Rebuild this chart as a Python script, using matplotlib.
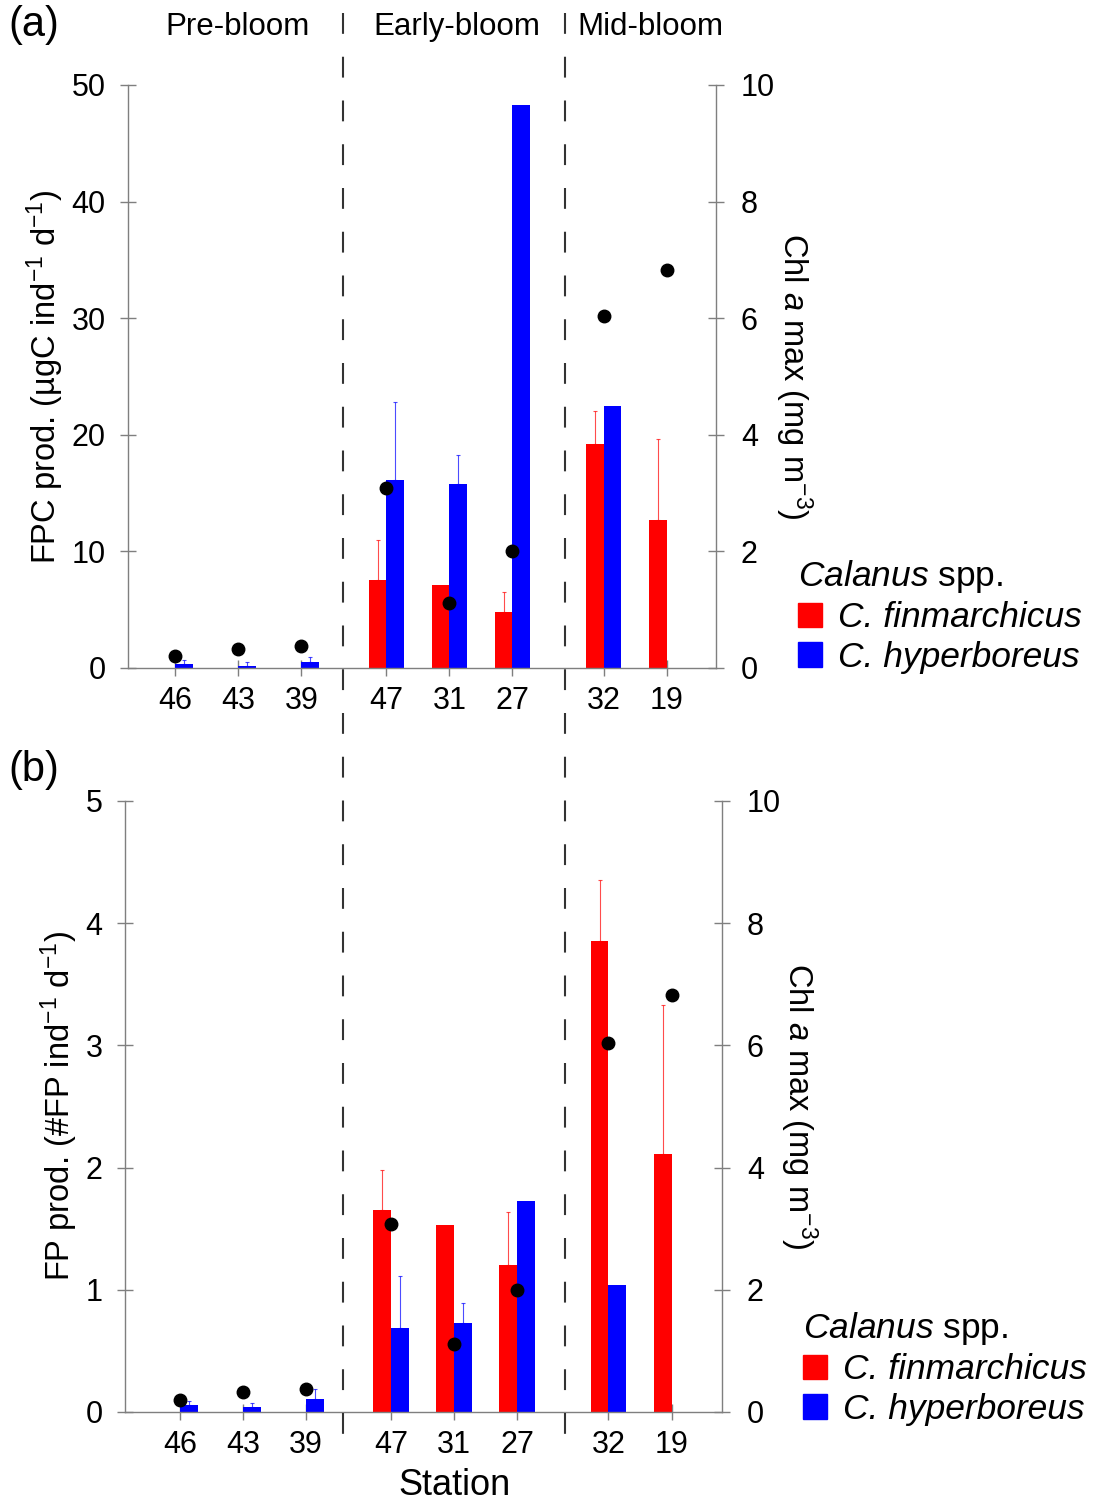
import numpy as np
import matplotlib
matplotlib.use("Agg")
import matplotlib.pyplot as plt
from matplotlib.lines import Line2D
from matplotlib.patches import Patch

plt.rcParams['font.family'] = ['Liberation Sans', 'DejaVu Sans']
plt.rcParams['mathtext.fontset'] = 'custom'
plt.rcParams['mathtext.rm'] = 'Liberation Sans'
plt.rcParams['mathtext.it'] = 'Liberation Sans:italic'

# -------------------------------------------------
# data
# -------------------------------------------------
stations = ['46', '43', '39', '47', '31', '27', '32', '19']
phases = ['Pre-bloom', 'Early-bloom', 'Mid-bloom']
station_pos = [1, 2, 3, 4.35, 5.35, 6.35, 7.8, 8.8]

fpc_fin = [0, 0, 0, 7.5, 7.1, 4.8, 19.2, 12.7]
fpc_fin_err = [0, 0, 0, 3.5, 0, 1.7, 2.8, 6.9]
fpc_hyp = [0.35, 0.15, 0.5, 16.1, 15.8, 48.3, 22.5, 0]
fpc_hyp_err = [0.3, 0.35, 0.4, 6.7, 2.5, 0, 0, 0]

fp_fin = [0, 0, 0, 1.65, 1.53, 1.2, 3.85, 2.11]
fp_fin_err = [0, 0, 0, 0.33, 0, 0.44, 0.5, 1.22]
fp_hyp = [0.06, 0.04, 0.11, 0.69, 0.73, 1.73, 1.04, 0]
fp_hyp_err = [0.03, 0.03, 0.08, 0.42, 0.16, 0, 0, 0]

chl = [0.2, 0.33, 0.37, 3.08, 1.12, 2.0, 6.04, 6.83]

RED = '#ff0000'
BLUE = '#0000ff'
GRAY = '#7f7f7f'
W = 0.28


def draw_panel(ax, fin, fin_err, hyp, hyp_err, ymax, ylabel, xlim):
    x = np.array(station_pos)
    fin = np.array(fin)
    hyp = np.array(hyp)
    fin_err = np.array(fin_err)
    hyp_err = np.array(hyp_err)

    ax.bar(x - W / 2, fin, W, color=RED, zorder=2)
    ax.bar(x + W / 2, hyp, W, color=BLUE, zorder=2)

    # upward-only error bars
    for xx, v, e, c in ((x - W / 2, fin, fin_err, RED),
                        (x + W / 2, hyp, hyp_err, BLUE)):
        m = e > 0
        ax.errorbar(xx[m], v[m], yerr=[np.zeros(m.sum()), e[m]],
                    fmt='none', ecolor=c, elinewidth=0.8,
                    capsize=1.5, capthick=0.8, alpha=0.7, zorder=1)

    ax.set_xlim(*xlim)
    ax.set_ylim(0, ymax)
    ax.set_yticks(np.linspace(0, ymax, 6))
    ax.set_yticklabels([f"{v:g}" for v in np.linspace(0, ymax, 6)])
    ax.set_xticks(x)
    ax.set_xticklabels(stations)

    for s in ('top', 'right'):
        ax.spines[s].set_visible(False)
    for s in ('left', 'bottom'):
        ax.spines[s].set_color(GRAY)
        ax.spines[s].set_linewidth(1.0)

    ax.tick_params(axis='both', direction='inout', length=12,
                   color=GRAY, width=1.0, labelsize=22)
    ax.tick_params(axis='y', pad=10)
    ax.tick_params(axis='x', pad=7)
    ax.set_ylabel(ylabel, fontsize=23.5, labelpad=4)

    # Chl a max on the right axis
    ax2 = ax.twinx()
    ax2.plot(x, chl, 'o', color='black', ms=9, zorder=5)
    ax2.set_ylim(0, 10)
    ax2.set_yticks([0, 2, 4, 6, 8, 10])
    for s in ('top', 'left', 'bottom'):
        ax2.spines[s].set_visible(False)
    ax2.spines['right'].set_color(GRAY)
    ax2.spines['right'].set_linewidth(1.0)
    ax2.tick_params(axis='y', direction='inout', length=12,
                    color=GRAY, width=1.0, labelsize=22, pad=12)
    ax2.set_ylabel(r"Chl $\it{a}$ max (mg m$^{-3}$)", fontsize=23.5,
                   rotation=270, labelpad=28)
    return ax2


fig = plt.figure(figsize=(10.99, 15.01), dpi=100)

ax_a = fig.add_axes([0.1165, 0.555, 0.535, 0.3884])
ax_b = fig.add_axes([0.1137, 0.0593, 0.5432, 0.4071])

draw_panel(ax_a, fpc_fin, fpc_fin_err, fpc_hyp, fpc_hyp_err, 50,
           r"FPC prod. (µgC ind$^{-1}$ d$^{-1}$)", (0.25, 9.58))
draw_panel(ax_b, fp_fin, fp_fin_err, fp_hyp, fp_hyp_err, 5,
           r"FP prod. (#FP ind$^{-1}$ d$^{-1}$)", (0.127, 9.60))

ax_b.set_xlabel("Station", fontsize=26)
ax_b.xaxis.set_label_coords((455 - 125) / 597, -0.092)

# phase separators (run through both panels)
for xf in (343 / 1099, 565 / 1099):
    fig.add_artist(Line2D([xf, xf], [1 - 13 / 1501, 1 - 1448 / 1501],
                          transform=fig.transFigure, color='#333333',
                          lw=1.5, linestyle=(0, (10, 11))))

# phase labels
for name, xf in zip(phases, (237, 457, 650)):
    fig.text(xf / 1099, 1 - 27 / 1501, name, ha='center', va='center',
             fontsize=22.5)

fig.text(8 / 1099, 1 - 25 / 1501, "(a)", ha='left', va='center', fontsize=30)
fig.text(8 / 1099, 1 - 770 / 1501, "(b)", ha='left', va='center', fontsize=30)

# legends
handles = [Patch(color=RED, label='C. finmarchicus'),
           Patch(color=BLUE, label='C. hyperboreus')]
for ax, (lx, ly) in ((ax_a, (798, 558)), (ax_b, (803, 1310))):
    ax.legend(handles=handles, loc='upper left',
              bbox_to_anchor=(lx / 1099, 1 - ly / 1501),
              bbox_transform=fig.transFigure, frameon=False,
              title=r"$\it{Calanus}$ spp.", title_fontsize=25.5,
              prop=dict(style='italic', size=25.5),
              handlelength=0.68, handleheight=0.68,
              handletextpad=0.45, labelspacing=0.18,
              borderpad=0, borderaxespad=0, alignment='left')

fig.savefig("out.png", dpi=100)
